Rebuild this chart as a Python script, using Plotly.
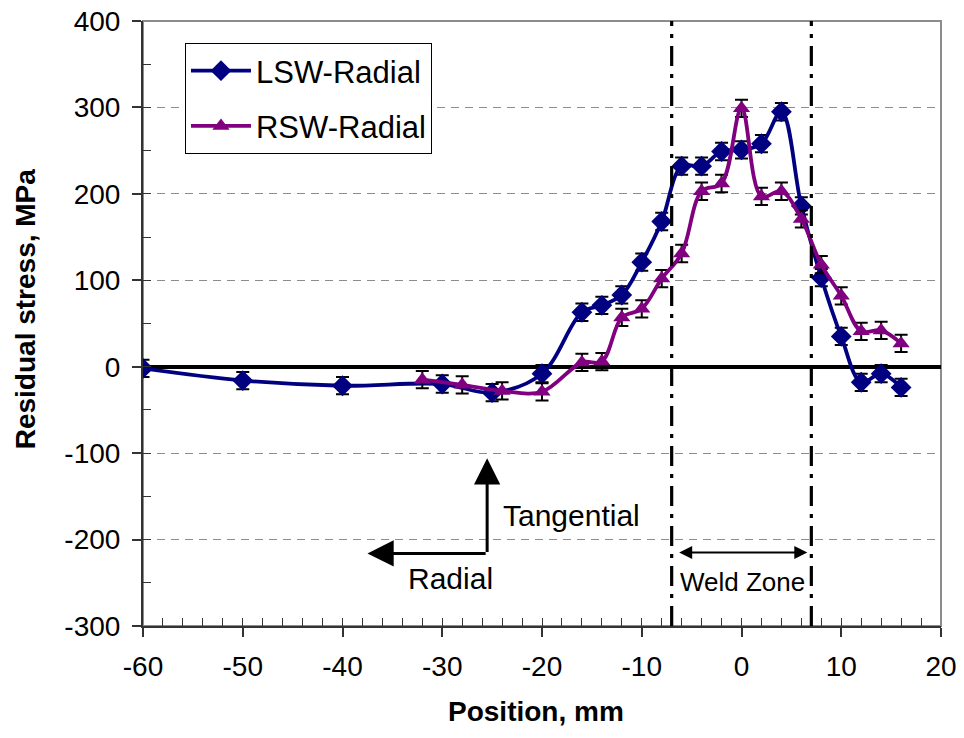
import plotly.graph_objects as go

# Radial residual stress measured across the weld (position in mm, stress in MPa)
lsw_x = [-60, -50, -40, -30, -25, -20, -16, -14, -12, -10, -8, -6, -4, -2, 0, 2, 4, 6, 8, 10, 12, 14, 16]
lsw_y = [-2, -16, -22, -20, -30, -8, 63, 71, 83, 121, 168, 232, 232, 249, 251, 258, 295, 186, 103, 35, -18, -8, -24]

rsw_x = [-32, -28, -24, -20, -16, -14, -12, -10, -8, -6, -4, -2, 0, 2, 4, 6, 8, 10, 12, 14, 16]
rsw_y = [-15, -21, -28, -29, 5, 6, 57, 67, 102, 131, 203, 212, 299, 197, 203, 171, 118, 82, 41, 42, 27]

stress_err = 10          # measurement uncertainty, MPa
weld_edges = [-7, 7]     # weld zone boundaries, mm

x_range = [-60, 20]
y_range = [-300, 400]
x_ticks = [-60, -50, -40, -30, -20, -10, 0, 10, 20]
x_labels = ["-60", "-50", "-40", "-30", "-20", "-10", "0", "10", "20"]
y_ticks = [-300, -200, -100, 0, 100, 200, 300, 400]
y_labels = ["-300", "-200", "-100", "0", "100", "200", "300", "400"]

FONT = "Liberation Sans, Arial, sans-serif"
NAVY = "#000080"
PURPLE = "#800080"
AXIS = "#333333"

fig = go.Figure()

fig.add_trace(go.Scatter(
    x=lsw_x, y=lsw_y, name="LSW-Radial", mode="lines+markers",
    line=dict(color=NAVY, width=3.8, shape="spline", smoothing=1),
    marker=dict(symbol="diamond", size=16, color=NAVY),
    error_y=dict(type="constant", value=stress_err, color="black", thickness=2, width=6.5),
    legendgroup="a",
))
fig.add_trace(go.Scatter(
    x=rsw_x, y=rsw_y, name="RSW-Radial", mode="lines+markers",
    line=dict(color=PURPLE, width=3.8, shape="spline", smoothing=1),
    marker=dict(symbol="triangle-up", size=15, color=PURPLE),
    error_y=dict(type="constant", value=stress_err, color="black", thickness=2, width=6.5),
    legendgroup="b",
))
# carrier for the inner tick axes
fig.add_trace(go.Scatter(x=[None], y=[None], xaxis="x2", yaxis="y2",
                         showlegend=False, hoverinfo="skip"))

fig.update_layout(
    template="none",
    width=964, height=738,
    margin=dict(l=143, r=23, t=21, b=112),
    paper_bgcolor="white", plot_bgcolor="white",
    font=dict(family=FONT, color="black", size=28),
    showlegend=True,
    legend=dict(
        x=0.0526, y=0.9636, xanchor="left", yanchor="top",
        bgcolor="white", bordercolor="black", borderwidth=1,
        font=dict(size=31, family=FONT),
        tracegroupgap=12, itemwidth=60,
    ),
    xaxis=dict(
        range=x_range, tickvals=x_ticks, ticktext=x_labels, ticks="outside", ticklen=9,
        tickwidth=1.5, tickcolor=AXIS, showline=True, linecolor=AXIS, linewidth=2,
        showgrid=False, zeroline=False, automargin=False,
        tickfont=dict(size=28), ticklabelstandoff=5,
    ),
    yaxis=dict(
        range=y_range, tickvals=y_ticks, ticktext=y_labels, ticks="outside", ticklen=9,
        tickwidth=1.5, tickcolor=AXIS, showline=True, linecolor=AXIS, linewidth=2,
        showgrid=True, gridcolor="#8c8c8c", gridwidth=1.3, griddash="8px,6px",
        zeroline=True, zerolinecolor="black", zerolinewidth=4, automargin=False,
        tickfont=dict(size=28), ticklabelstandoff=6,
    ),
    xaxis2=dict(
        range=x_range, overlaying="x", anchor="y", side="bottom", automargin=False,
        dtick=2, tick0=0, ticks="inside", ticklen=8, tickwidth=1.3, tickcolor=AXIS,
        showticklabels=False, showgrid=False, zeroline=False, showline=False,
    ),
    yaxis2=dict(
        range=y_range, overlaying="y", anchor="x", side="left", automargin=False,
        dtick=50, tick0=0, ticks="inside", ticklen=8, tickwidth=1.3, tickcolor=AXIS,
        showticklabels=False, showgrid=False, zeroline=False, showline=False,
    ),
)

# axis titles
fig.add_annotation(text="<b>Position, mm</b>", xref="paper", yref="paper",
                   x=0.4925, y=-0.142, xanchor="center", yanchor="middle",
                   showarrow=False, font=dict(size=28))
fig.add_annotation(text="<b>Residual stress, MPa</b>", xref="paper", yref="paper",
                   x=-0.148, y=0.525, xanchor="center", yanchor="middle",
                   textangle=-90, showarrow=False, font=dict(size=28))

# plot frame (top and right edges in grey)
fig.add_shape(type="rect", xref="paper", yref="paper", x0=0, y0=0, x1=1, y1=1,
              line=dict(color="#8c8c8c", width=2), layer="below")

# weld zone boundaries
for xe in weld_edges:
    fig.add_shape(type="line", xref="x", yref="paper", x0=xe, x1=xe, y0=0, y1=1,
                  line=dict(color="black", width=3.2, dash="20px,8px,4px,8px"), layer="above")

# stress direction indicator
corner = (-25.5, -216)
fig.add_annotation(x=corner[0], y=-106, ax=corner[0], ay=corner[1],
                   xref="x", yref="y", axref="x", ayref="y", text="",
                   showarrow=True, arrowhead=2, arrowsize=1.75, arrowwidth=3,
                   arrowcolor="black", standoff=0, startstandoff=0)
fig.add_annotation(x=-37.5, y=corner[1], ax=corner[0], ay=corner[1],
                   xref="x", yref="y", axref="x", ayref="y", text="",
                   showarrow=True, arrowhead=2, arrowsize=1.75, arrowwidth=3,
                   arrowcolor="black", standoff=0, startstandoff=0)
fig.add_annotation(x=-17.0, y=-172, xref="x", yref="y", text="Tangential",
                   showarrow=False, font=dict(size=30))
fig.add_annotation(x=-29.2, y=-245, xref="x", yref="y", text="Radial",
                   showarrow=False, font=dict(size=30))

# weld zone width marker
fig.add_annotation(x=6.6, y=-215, ax=-6.4, ay=-215,
                   xref="x", yref="y", axref="x", ayref="y", text="",
                   showarrow=True, arrowhead=2, arrowside="end+start",
                   arrowsize=1.3, arrowwidth=2, arrowcolor="black",
                   standoff=0, startstandoff=0)
fig.add_annotation(x=0.1, y=-249, xref="x", yref="y", text="Weld Zone",
                   showarrow=False, font=dict(size=26))

fig.write_html("out.html")
